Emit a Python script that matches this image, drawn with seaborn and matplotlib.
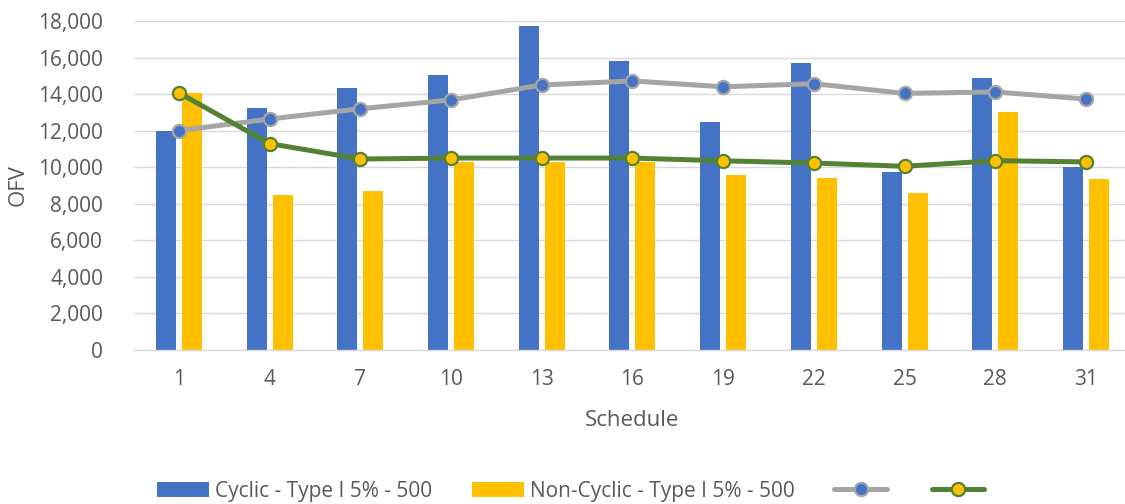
import numpy as np
import pandas as pd
import matplotlib
matplotlib.use("Agg")
import matplotlib.pyplot as plt
from matplotlib.lines import Line2D
from matplotlib.ticker import FuncFormatter
import seaborn as sns

# Schedules on the x axis
schedules = ["1", "4", "7", "10", "13", "16", "19", "22", "25", "28", "31"]

# Bar series
cyclic = [12000, 13250, 14350, 15050, 17700, 15800, 12500, 15680, 9750, 14890, 10000]
non_cyclic = [14050, 8500, 8700, 10300, 10300, 10300, 9600, 9400, 8600, 13040, 9370]

# Line series
cyclic_line = [12000, 12640, 13200, 13680, 14500, 14720, 14400, 14570, 14040, 14120, 13730]
non_cyclic_line = [14070, 11290, 10450, 10500, 10500, 10500, 10350, 10230, 10050, 10360, 10290]

bar_names = ["Cyclic - Type I 5% - 500", "Non-Cyclic - Type I 5% - 500"]

BLUE = "#4472C4"
GOLD = "#FFC000"
GREY = "#A5A5A5"
GREEN = "#548235"
TEXT = "#595959"
GRID = "#D9D9D9"

sns.set_theme(style="white")
plt.rcParams["font.family"] = ["Open Sans", "DejaVu Sans"]

bars = pd.DataFrame({
    "Schedule": schedules * 2,
    "OFV": cyclic + non_cyclic,
    "Series": [bar_names[0]] * len(schedules) + [bar_names[1]] * len(schedules),
})
lines_a = pd.DataFrame({"Schedule": schedules, "OFV": cyclic_line})
lines_b = pd.DataFrame({"Schedule": schedules, "OFV": non_cyclic_line})

fig = plt.figure(figsize=(11.25, 5.04), dpi=100)
ax = fig.add_axes([133.6 / 1125, 1 - 350 / 504, 997.7 / 1125, 329 / 504])

sns.barplot(data=bars, x="Schedule", y="OFV", hue="Series", order=schedules,
            hue_order=bar_names, palette=[BLUE, GOLD], width=0.573, gap=0.23,
            linewidth=0, saturation=1, ax=ax, legend=False)

sns.pointplot(data=lines_a, x="Schedule", y="OFV", order=schedules, color=GREY,
              errorbar=None, markers="o", linestyles="-", linewidth=3.6,
              markersize=9.5, markerfacecolor=BLUE, markeredgecolor=GREY,
              markeredgewidth=1.6, ax=ax)
sns.pointplot(data=lines_b, x="Schedule", y="OFV", order=schedules, color=GREEN,
              errorbar=None, markers="o", linestyles="-", linewidth=3.6,
              markersize=9.5, markerfacecolor=GOLD, markeredgecolor=GREEN,
              markeredgewidth=1.6, ax=ax)

ax.set_ylim(0, 18000)
ax.set_yticks(np.arange(0, 18001, 2000))
ax.yaxis.set_major_formatter(FuncFormatter(lambda v, p: f"{int(v):,}"))
ax.set_xlim(-0.5, len(schedules) - 0.5)

ax.set_axisbelow(True)
ax.yaxis.grid(True, color=GRID, linewidth=1.0)
ax.xaxis.grid(False)
for side in ["top", "right", "left"]:
    ax.spines[side].set_visible(False)
ax.spines["bottom"].set_color(GRID)
ax.spines["bottom"].set_linewidth(1.0)

ax.tick_params(axis="both", length=0, labelsize=15, colors=TEXT)
ax.tick_params(axis="y", pad=22)
ax.tick_params(axis="x", pad=14)

ax.set_xlabel("Schedule", fontsize=16, color=TEXT, labelpad=14)
ax.set_ylabel("OFV", fontsize=16, color=TEXT)
ax.yaxis.set_label_coords((29 - 133.6) / 997.7, 0.5)

handles = [
    plt.Rectangle((0, 0), 1, 1, facecolor=BLUE, edgecolor="none"),
    plt.Rectangle((0, 0), 1, 1, facecolor=GOLD, edgecolor="none"),
    Line2D([], [], color=GREY, linewidth=3.6, marker="o", markersize=9.5,
           markerfacecolor=BLUE, markeredgecolor=GREY, markeredgewidth=1.6),
    Line2D([], [], color=GREEN, linewidth=3.6, marker="o", markersize=9.5,
           markerfacecolor=GOLD, markeredgecolor=GREEN, markeredgewidth=1.6),
]
labels = bar_names + ["", ""]
leg = fig.legend(handles, labels, loc="center", bbox_to_anchor=(0.51, 1 - 491 / 504),
                 ncol=4, frameon=False, fontsize=15, handlelength=2.5,
                 handleheight=0.75, handletextpad=0.3, columnspacing=1.9,
                 labelcolor=TEXT)

fig.savefig("out.png", dpi=100)
